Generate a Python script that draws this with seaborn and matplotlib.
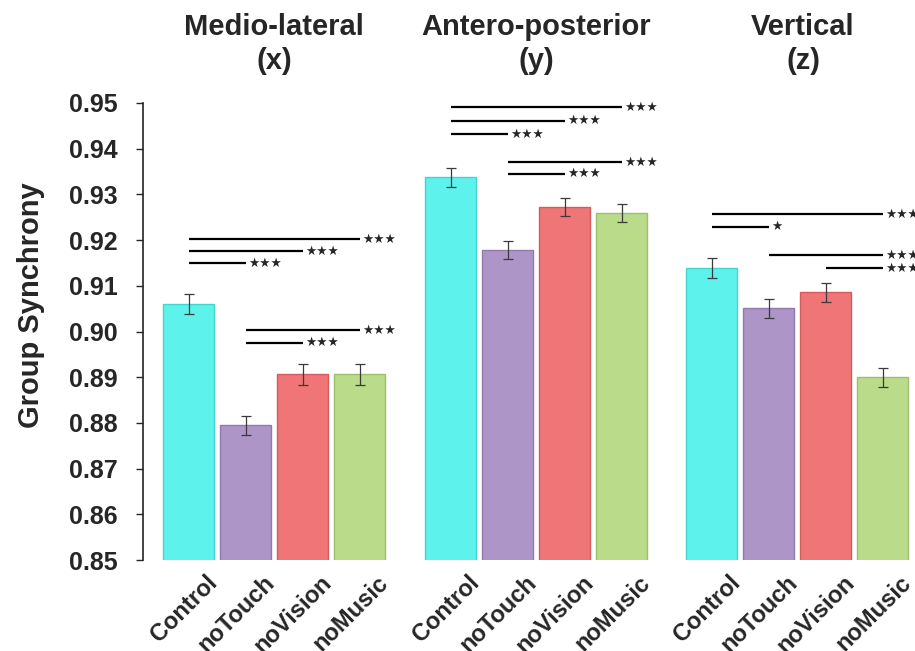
import numpy as np
import pandas as pd
import matplotlib
matplotlib.use('Agg')
import matplotlib.pyplot as plt
import matplotlib.transforms as mtransforms
import seaborn as sns

# Condition names and bar colours
conditions = ['Control', 'noTouch', 'noVision', 'noMusic']
bar_colors = ['#5EF2EC', '#AD95C8', '#EF7577', '#B9DB8A']
edge_colors = ['#45D4CE', '#9279AE', '#D25C5E', '#9CBF6E']

# Group synchrony means and errors per direction
ml_means = [0.9061, 0.8795, 0.8906, 0.8906]
ml_err = [0.0022, 0.0021, 0.0022, 0.0022]
ap_means = [0.9337, 0.9178, 0.9272, 0.9260]
ap_err = [0.0020, 0.0020, 0.0020, 0.0020]
v_means = [0.9139, 0.9051, 0.9086, 0.8900]
v_err = [0.0022, 0.0021, 0.0021, 0.0021]

# Significance brackets: (from, to, height, label)
ml_sig = [(0, 3, 0.9202, '***'), (0, 2, 0.9176, '***'), (0, 1, 0.9150, '***'),
          (1, 3, 0.9003, '***'), (1, 2, 0.8975, '***')]
ap_sig = [(0, 3, 0.9491, '***'), (0, 2, 0.9461, '***'), (0, 1, 0.9432, '***'),
          (1, 3, 0.9371, '***'), (1, 2, 0.9345, '***')]
v_sig = [(0, 3, 0.9257, '***'), (0, 1, 0.9229, '*'),
         (1, 3, 0.9167, '***'), (2, 3, 0.9139, '***')]

titles = ['Medio-lateral\n(x)', 'Antero-posterior\n(y)', 'Vertical\n(z)']
y_ticks = [0.85, 0.86, 0.87, 0.88, 0.89, 0.90, 0.91, 0.92, 0.93, 0.94, 0.95]

panels = [(ml_means, ml_err, ml_sig), (ap_means, ap_err, ap_sig), (v_means, v_err, v_sig)]

sns.set_style('white')
plt.rcParams['font.family'] = ['Liberation Sans', 'DejaVu Sans']

W, H = 915, 651
fig = plt.figure(figsize=(W / 100, H / 100), dpi=100)

# axes placement in pixels (left edge of each panel)
lefts = [143, 405, 666]
title_shift = [0, 0, 6]
ax_w = 57 * 4.4
bottom_px, top_px = 560, 103

axes = []
for i, (means, errs, sigs) in enumerate(panels):
    ax = fig.add_axes([lefts[i] / W, (H - bottom_px) / H, ax_w / W, (bottom_px - top_px) / H])
    axes.append(ax)
    df = pd.DataFrame({'Condition': conditions, 'Synchrony': means})
    sns.barplot(data=df, x='Condition', y='Synchrony', hue='Condition',
                palette=bar_colors, saturation=1, width=0.9, errorbar=None,
                legend=False, ax=ax)
    for bar, ec in zip(ax.patches, edge_colors):
        bar.set_edgecolor(ec)
        bar.set_linewidth(1.0)
    ax.errorbar(np.arange(len(conditions)), means, yerr=errs, fmt='none',
                ecolor='#3a3a3a', elinewidth=0.9, capsize=3.5, capthick=0.9)

    # significance lines
    for a, b, y, lab in sigs:
        ax.plot([a, b], [y, y], color='black', lw=1.6, clip_on=False, solid_capstyle='butt')
        ax.text(b + 0.05, y, lab.replace('*', '\u2605'), fontsize=9, va='center', ha='left',
                family='DejaVu Sans', clip_on=False)

    ax.set_ylim(0.85, 0.95)
    ax.set_xlim(-0.8, 3.6)
    ax.set_xlabel('')
    ax.set_ylabel('')
    for s in ['top', 'right', 'bottom']:
        ax.spines[s].set_visible(False)

    # rotated category labels
    ax.set_xticks(range(len(conditions)))
    ax.set_xticklabels(conditions, rotation=45, ha='right', va='top',
                       rotation_mode='anchor', fontsize=17, fontweight='bold')
    ax.tick_params(axis='x', length=0, pad=0)
    offset = mtransforms.ScaledTranslation(0.17, -0.11, fig.dpi_scale_trans)
    for lab in ax.get_xticklabels():
        lab.set_transform(lab.get_transform() + offset)

    # panel title centred over the bars
    cx = lefts[i] + (1.5 + 0.8) * 57 + title_shift[i]
    fig.text(cx / W, 1 - 44 / H, titles[i], ha='center', va='center',
             fontsize=21, fontweight='bold', linespacing=1.3)

    if i == 0:
        ax.set_yticks(y_ticks)
        ax.set_yticklabels(['%.2f' % t for t in y_ticks], fontsize=18, fontweight='bold')
        ax.tick_params(axis='y', direction='out', length=5, width=1, pad=13, left=True)
        ax.spines['left'].set_linewidth(1.2)
        ax.spines['left'].set_color('#222222')
        ax.set_ylabel('Group Synchrony', fontsize=21, fontweight='bold')
        ax.yaxis.set_label_coords(-0.39, 0.558)
    else:
        ax.spines['left'].set_visible(False)
        ax.set_yticks([])

plt.savefig('out.png', dpi=100)
